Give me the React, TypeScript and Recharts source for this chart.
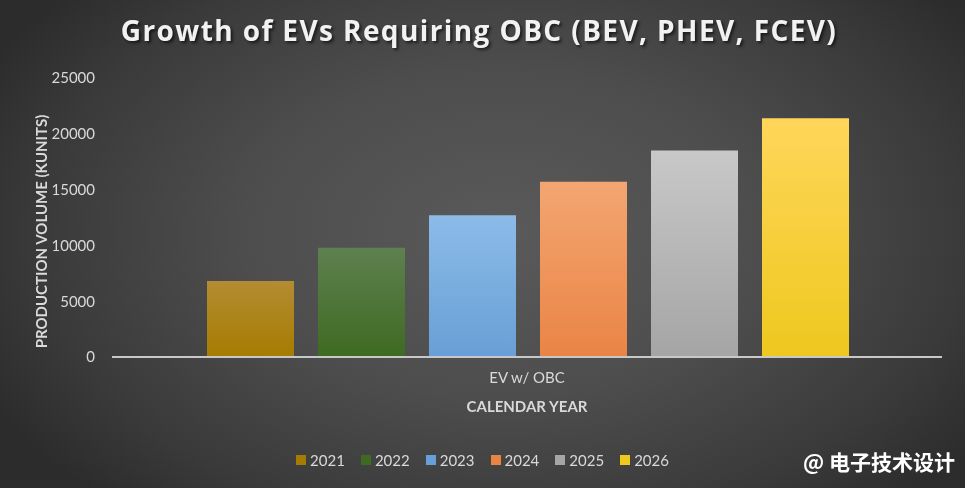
import { BarChart, Bar, XAxis, YAxis, Legend } from 'recharts'

const years = ['2021', '2022', '2023', '2024', '2025', '2026']
const volumes = [6800, 9800, 12700, 15700, 18500, 21400]
const category = 'EV w/ OBC'
const yTicks = [0, 5000, 10000, 15000, 20000, 25000]
// gradient stops per year: [top, bottom]
const barColors: [string, string][] = [
  ['#b38c33', '#a67c00'],
  ['#5f8050', '#3e6a21'],
  ['#8cbbe8', '#689fd6'],
  ['#f3a672', '#ea8445'],
  ['#c8c8c8', '#a5a5a5'],
  ['#ffd65a', '#eec81e'],
]

const data = [
  years.reduce((row, y, i) => ({ ...row, [y]: volumes[i] }), { name: category } as Record<string, string | number>),
]

const font = 'Lato, "Open Sans", sans-serif'

function LegendRow() {
  return (
    <div style={{ display: 'flex', justifyContent: 'center', gap: 16, height: 20, alignItems: 'center', fontFamily: font, fontSize: 15, color: '#d9d9d9' }}>
      {years.map((y, i) => (
        <div key={y} style={{ display: 'flex', alignItems: 'center', gap: 4 }}>
          <span style={{ width: 10, height: 10, background: barColors[i][1], display: 'inline-block' }} />
          <span>{y}</span>
        </div>
      ))}
    </div>
  )
}

export default function App() {
  return (
    <div
      style={{
        position: 'fixed', left: 0, top: 0, width: 965, height: 488, overflow: 'hidden',
        background: 'radial-gradient(ellipse 60% 75% at 52% 48%, #5a5a5a 0%, #4d4d4d 45%, #3a3a3a 80%, #2c2c2c 100%)',
      }}
    >
      <div
        style={{
          position: 'absolute', top: 11, left: 0, width: 958, textAlign: 'center',
          fontFamily: '"Open Sans", sans-serif', fontWeight: 700, fontSize: 28, letterSpacing: 1.4,
          color: '#f2f2f2', textShadow: '2px 2px 3px rgba(0,0,0,0.6)',
        }}
      >
        Growth of EVs Requiring OBC (BEV, PHEV, FCEV)
      </div>
      <BarChart
        width={965}
        height={488}
        data={data}
        margin={{ top: 78, right: 23, bottom: 54, left: 0 }}
        barCategoryGap={95}
        barGap={24}
        style={{ position: 'absolute', left: 0, top: 0 }}
      >
        <defs>
          {barColors.map(([top, bottom], i) => (
            <linearGradient key={i} id={`g${i}`} x1="0" y1="0" x2="0" y2="1">
              <stop offset="0%" stopColor={top} />
              <stop offset="100%" stopColor={bottom} />
            </linearGradient>
          ))}
        </defs>
        <XAxis
          dataKey="name"
          height={57}
          tickLine={false}
          tickSize={0}
          tickMargin={15}
          axisLine={{ stroke: '#c8c8c8', strokeWidth: 2 }}
          tick={{ fill: '#d9d9d9', fontSize: 15, fontFamily: font }}
          label={{ value: 'CALENDAR YEAR', position: 'insideBottom', offset: 2, fill: '#d9d9d9', fontSize: 15, fontWeight: 700, fontFamily: font }}
        />
        <YAxis
          width={112}
          domain={[0, 25000]}
          ticks={yTicks}
          axisLine={false}
          tickLine={false}
          tickSize={0}
          tickMargin={17}
          tick={{ fill: '#d9d9d9', fontSize: 15, fontFamily: font }}
          label={({ viewBox }: any) => (
            <text
              x={viewBox.x + 47}
              y={viewBox.y + viewBox.height / 2 + 14}
              transform={`rotate(-90, ${viewBox.x + 47}, ${viewBox.y + viewBox.height / 2 + 14})`}
              textAnchor="middle"
              fill="#d9d9d9"
              fontSize={15}
              fontWeight={700}
              fontFamily={font}
            >
              PRODUCTION VOLUME (KUNITS)
            </text>
          )}
        />
        <Legend
          content={() => <LegendRow />}
          wrapperStyle={{ top: 450, bottom: 'auto', left: 0, width: 965 }}
        />
        {years.map((y, i) => (
          <Bar key={y} dataKey={y} fill={`url(#g${i})`} isAnimationActive={false} />
        ))}
      </BarChart>
      <div
        style={{
          position: 'absolute', right: 10, top: 446, fontFamily: '"Noto Sans CJK SC", sans-serif',
          fontWeight: 700, fontSize: 21, color: '#ffffff',
        }}
      >
        @ 电子技术设计
      </div>
    </div>
  )
}
